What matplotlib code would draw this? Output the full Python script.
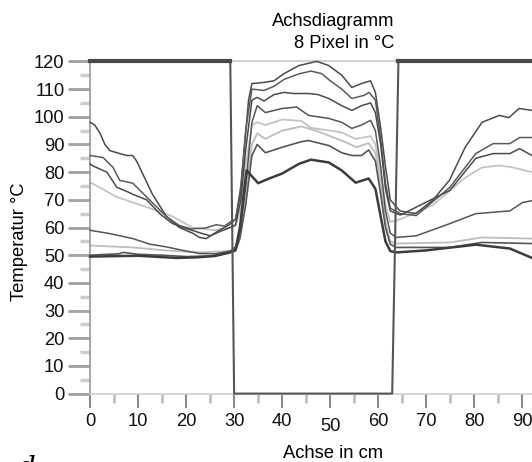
import matplotlib
matplotlib.use("Agg")
import matplotlib.pyplot as plt
from matplotlib.ticker import MultipleLocator

# Achsdiagramm, 8 Pixel in °C - Temperatur entlang der Achse

plt.rcParams["font.family"] = ["Liberation Sans", "DejaVu Sans"]

X_MAX = 92.0

# frame trace: 120 outside the part, 0 inside
frame_x = [0, 29.2, 30.0, 62.9, 64.2, X_MAX]
frame_y = [120, 120, 0, 0, 120, 120]

# eight pixel traces as (Achse cm, Temperatur °C)
px1 = [(0, 98), (1, 97), (2.1, 94), (3.1, 90), (4.1, 87.8), (5.6, 87), (7.7, 86), (8.9, 86),
       (9.7, 84), (13, 72), (15.9, 64), (18.6, 60), (21.3, 58), (22.8, 56.4), (24.2, 56),
       (26.9, 59), (29, 61), (30.3, 63), (31.3, 72), (32.3, 92), (33, 106), (33.7, 112),
       (36.2, 112.4), (38.3, 113), (40.4, 115.6), (42.4, 117.5), (43.5, 118.5), (47.2, 120),
       (49.7, 118.5), (52.4, 115), (54.5, 110.6), (56.5, 112), (58.4, 113), (59.4, 108.8),
       (60.5, 96), (61.5, 82), (62.5, 70), (64.5, 66), (67.8, 65), (71.3, 69.8), (74.8, 77),
       (78.1, 89), (81.6, 98), (85.2, 100.5), (87.2, 99.7), (89.3, 103), (92, 102.3)]

px2 = [(0, 86), (2.7, 85.3), (4.8, 81.7), (6.2, 77), (8.9, 76), (11.8, 71), (15.9, 64),
       (18.6, 60.7), (21, 59.5), (24, 59.8), (26.3, 61), (28, 60.5), (29.2, 62), (30.3, 63),
       (31.4, 75), (32.4, 95), (33.7, 110), (36.2, 109.5), (38.3, 111), (40.4, 113.5),
       (43.5, 115.5), (46, 116.5), (48.2, 115.6), (50, 113), (52.4, 110), (54.5, 106.6),
       (57, 107.7), (58.1, 108.8), (59.4, 106), (60.5, 92), (61.5, 76), (62.5, 67),
       (64.6, 65), (67.9, 64.3), (74.9, 74.5), (80.3, 86.7), (83.9, 90.3), (87.4, 90.3),
       (89.4, 92.5), (92, 92.5)]

px3 = [(0, 83), (0.4, 82.4), (3.5, 80), (5.6, 74.5), (7.7, 73), (8.9, 72), (11.8, 70),
       (14.5, 65), (17.2, 61.4), (20.1, 59.6), (23, 58), (25, 57), (27, 58.5), (29.2, 60),
       (30.3, 61), (31.4, 70), (32.4, 88), (33.7, 106), (34.8, 107), (36.2, 105.7),
       (38.3, 108), (40.4, 108.8), (42.4, 108.4), (45.5, 108.4), (47.5, 108), (49.7, 106.6),
       (52.4, 104), (54.5, 102.3), (56.5, 104), (58.4, 105), (59.4, 101.5), (60.5, 90),
       (61.5, 74), (62.5, 66), (64.6, 64.5), (74.9, 73.4), (80.3, 85), (83.9, 86.7),
       (87.4, 86.7), (89.4, 88.5), (92, 86)]

px4 = [(0, 76), (0.4, 76), (5.6, 71), (12.4, 67), (17.2, 64), (21.3, 60), (26, 59),
       (29.2, 60), (30.3, 60.5), (31.4, 67), (32.4, 82), (33.7, 97), (34.8, 98), (36.5, 97),
       (40, 99), (44, 98.5), (46, 96), (50, 95), (52.4, 94.3), (55.3, 92), (58.4, 93),
       (59.4, 90), (60.5, 80), (61.5, 68), (62.5, 62), (64.6, 63), (71.3, 68), (78.1, 78),
       (81.6, 81.7), (85.2, 82.4), (88, 81.7), (92, 80)]

px5 = [(0, 59), (4.1, 57.8), (8.9, 56), (12.4, 54), (15.9, 53), (19.4, 51.7), (22.8, 50.6),
       (26, 50.5), (29.2, 51.5), (30.3, 53), (31.2, 58), (32.4, 75), (33.7, 98), (34.8, 104),
       (36.5, 101.5), (40, 103), (43, 103.5), (45.5, 100.5), (49.7, 99.4), (52.4, 98),
       (54.5, 95.8), (56.5, 97), (58.4, 98.7), (59.4, 95), (60.5, 82), (61.5, 66), (62.5, 58),
       (63.7, 56.4), (67.9, 57), (74.9, 61.4), (80.3, 65), (87.4, 66), (90, 69), (92, 69.7)]

px6 = [(0, 53.5), (8.9, 52.8), (15.9, 51.7), (22.8, 51), (29.2, 51.5), (30.3, 52), (31.2, 57),
       (32.4, 72), (33.7, 90), (34.8, 94), (36.5, 92), (40, 95), (44, 96.5), (47, 95), (50, 93),
       (53, 91), (55.5, 89), (58, 90.5), (59.4, 87), (60.5, 76), (61.5, 62), (62.5, 55),
       (63.7, 54.2), (74.9, 54.6), (81.6, 56.4), (92, 56)]

px7 = [(0, 50), (6, 50.5), (7, 51), (10, 50.3), (15, 50), (20, 49.5), (25, 49.7), (29.2, 51),
       (30.3, 51.5), (31.2, 56), (32.4, 68), (33.7, 86), (34.8, 90), (36.5, 87), (40, 89),
       (44, 91), (45.5, 91.4), (49.7, 89.6), (52.4, 87), (54.5, 86), (56.5, 86), (58, 88),
       (59.4, 84), (60.5, 72), (61.5, 60), (62.5, 54), (63.7, 52.8), (74.9, 52.8),
       (81.6, 54.6), (92, 54.2)]

px8 = [(0, 49.5), (10, 49.8), (18, 49), (22, 49.2), (26, 49.7), (29.2, 51), (30.3, 52),
       (31.2, 60), (32, 72), (32.6, 80.6), (35, 76), (37, 77.5), (40, 79.5), (43.5, 83),
       (46, 84.5), (49.7, 83.5), (52.4, 80.6), (55.3, 76.2), (58, 77.7), (59.4, 74),
       (60.5, 64), (61.5, 55), (62.5, 51.5), (63.7, 51), (69.8, 51.7), (80.3, 53.8),
       (87.4, 52.4), (92, 49)]

traces = [px1, px2, px3, px4, px5, px6, px7, px8]
colors = ["#4a4a4a", "#5a5a5a", "#4a4a4a", "#c4c4c4", "#555555", "#bdbdbd", "#555555", "#3c3c3c"]
widths = [1.1, 1.1, 1.1, 1.3, 1.1, 1.3, 1.2, 1.8]
layers = [3, 3, 3, 2, 3, 2, 3, 3]

fig = plt.figure(figsize=(5.32, 4.62), dpi=100)
ax = fig.add_axes([90 / 532, 1 - 393.6 / 462, 442 / 532, 332.2 / 462])

# light line at 120 across the part
ax.plot([frame_x[1], frame_x[4]], [120, 120], color="#c8c8c8", lw=1.2, clip_on=False, zorder=1)

for pts, c, w, z in zip(traces, colors, widths, layers):
    xs = [p[0] for p in pts]
    ys = [p[1] for p in pts]
    ax.plot(xs, ys, color=c, lw=w, clip_on=False, zorder=z)

ax.plot(frame_x, frame_y, color="#555555", lw=1.5, clip_on=False, zorder=4)
ax.plot(frame_x[:2], frame_y[:2], color="#4a4a4a", lw=3, clip_on=False, zorder=4)
ax.plot(frame_x[4:], frame_y[4:], color="#4a4a4a", lw=3, clip_on=False, zorder=4)

ax.set_xlim(0, X_MAX)
ax.set_ylim(0, 120)

for s in ["top", "right"]:
    ax.spines[s].set_visible(False)
ax.spines["left"].set_color("#9a9a9a")
ax.spines["left"].set_linewidth(1.2)
ax.spines["bottom"].set_color("#cfcfcf")
ax.spines["bottom"].set_linewidth(1.2)

ax.set_xticks(range(0, 100, 10))
ax.set_yticks(range(0, 130, 10))
ax.xaxis.set_minor_locator(MultipleLocator(5))
ax.yaxis.set_minor_locator(MultipleLocator(5))

ax.tick_params(axis="y", which="major", length=16, width=2, color="#a0a0a0",
               pad=2.5, labelsize=13.2, labelcolor="#111111")
ax.tick_params(axis="y", which="minor", length=7.5, width=2.5, color="#cccccc")
ax.tick_params(axis="x", which="major", length=10, width=1.5, color="#8a8a8a",
               pad=4.2, labelsize=13.2, labelcolor="#111111")
ax.tick_params(axis="x", which="minor", length=6.5, width=2, color="#c0c0c0")

# the "50" label sits a little lower in the original
ax.xaxis.get_major_ticks()[5].set_pad(7.5)

fig.text(394 / 532, 1 - 25.5 / 462, "Achsdiagramm", ha="right", va="baseline", fontsize=13.2)
fig.text(394 / 532, 1 - 47.5 / 462, "8 Pixel in °C", ha="right", va="baseline", fontsize=13.2)
fig.text(19.7 / 532, 1 - 242 / 462, "Temperatur °C", rotation=90, ha="center", va="center",
         fontsize=13.2)
fig.text(333.5 / 532, 1 - 458.5 / 462, "Achse in cm", ha="center", va="baseline", fontsize=13.2)
fig.text(17 / 532, 1 - 455 / 462, "d", ha="left", va="top", fontsize=20,
         family="DejaVu Serif", style="italic")

fig.savefig("out.png", dpi=100)
